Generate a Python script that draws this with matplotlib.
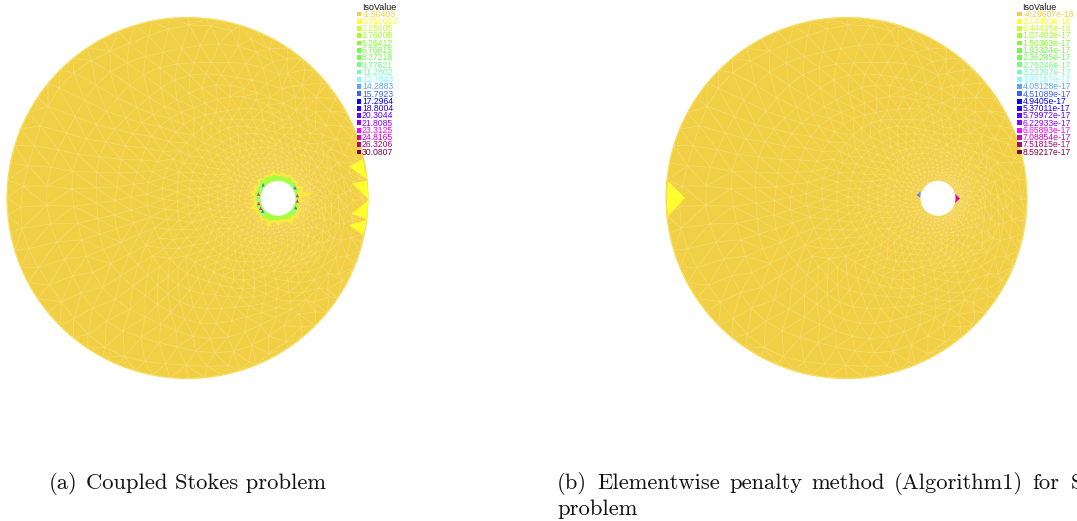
import matplotlib
matplotlib.use('Agg')
import matplotlib.pyplot as plt
import matplotlib.tri as mtri
from matplotlib.patches import Circle, Polygon
import numpy as np

# legend values
left_labels = ['-1.50403', '0.752013', '2.25605', '3.76008', '5.26412', '6.76815', '8.27218',
               '9.77621', '11.2802', '12.7843', '14.2883', '15.7923', '17.2964', '18.8004',
               '20.3044', '21.8085', '23.3125', '24.8165', '26.3206', '30.0807']
right_labels = ['-4.29607e-18', '2.14803e-18', '6.44415e-18', '1.07402e-17', '1.50363e-17',
                '1.93324e-17', '2.36285e-17', '2.79246e-17', '3.22207e-17', '3.65167e-17',
                '4.08128e-17', '4.51089e-17', '4.9405e-17', '5.37011e-17', '5.79972e-17',
                '6.22933e-17', '6.65893e-17', '7.08854e-17', '7.51815e-17', '8.59217e-17']
iso_colors = ['#f2cf45', '#ffff20', '#c8ff28', '#a0ff28', '#80ff28', '#70ff40', '#70ff50',
              '#70ff80', '#70ffb0', '#80ffff', '#5aa5ff', '#3a60ff', '#0000ff', '#2000ff',
              '#6000ff', '#9000ff', '#ff00ff', '#d000c0', '#b00080', '#800040']

# yellow boundary elements, (x, y) in image pixels
left_spikes = [[(362.7, 159), (366.7, 179), (349, 166.7)],
               [(367, 181), (368.5, 199), (352, 183)],
               [(368.5, 200), (367, 219), (351.6, 214)],
               [(366.7, 220), (363, 235), (349, 225)]]
right_spikes = [[(668, 181), (666.5, 198), (668, 216), (685, 198)]]

# blotches around the hole in the left panel: angle (deg), radius (px)
blotch_angles = [0, 6, 12, 20, 28, 36, 44, 52, 60, 70, 80, 90, 100, 110, 120, 128, 136, 144,
                 152, 160, 168, 176, 184, 192, 200, 208, 216, 224, 232, 240, 250, 260, 270,
                 280, 290, 300, 310, 320, 328, 336, 344, 352]
blotch_yellow = [22, 28, 22, 23, 27, 24, 29, 25, 30, 25, 24, 27, 24, 31, 25, 29, 24, 27,
                 25, 30, 24, 26, 24, 29, 25, 27, 24, 28, 24, 27, 25, 27, 24, 26, 25, 27,
                 24, 26, 23, 28, 25, 36]
blotch_green = [20, 21, 20, 22, 23, 22, 24, 22, 24, 22, 21, 22, 22, 24, 23, 25, 22, 24,
                22, 23, 21, 22, 21, 24, 22, 23, 22, 25, 23, 24, 23, 24, 22, 23, 22, 24,
                22, 23, 21, 23, 20, 21]
spot_angles = [-8, 8, 28, -32, 42, -46, 150, 165, 178, 192, 210, 140, 222, 132]
spot_radii = [19.5, 19.5, 20, 20, 20, 20, 20, 20, 19.5, 20, 20, 20, 20, 20]
spot_colors = ['#e010c0', '#e010c0', '#3a60ff', '#3a60ff', '#70ffd0', '#70ffd0', '#c020c0',
               '#d010b0', '#70ffd0', '#d010b0', '#70ffd0', '#3a60ff', '#3a60ff', '#70ffd0']

DISK = '#f2d045'
MESH = '#f6dc78'
R_OUT = 180.5
R_HOLE = 17.5


def draw_mesh(ax, cx, cy, hx, hy):
    # rings graded from fine at the hole to coarse on the boundary
    xs, ys = [], []
    r = R_HOLE
    k = 0
    while r < R_OUT:
        h = 3.2 + 0.115 * (r - R_HOLE)
        f = (r - R_HOLE) / (R_OUT - R_HOLE)
        n = int(2 * np.pi * r / h)
        ang = np.linspace(0, 2 * np.pi, n, endpoint=False) + k * 0.61
        wob = 1 + 0.018 * np.sin(ang * 7 + k * 1.3) * min(f * 3, 1)
        xs.append(hx + f * (cx - hx) + r * wob * np.cos(ang))
        ys.append(hy + f * (cy - hy) + r * wob * np.sin(ang))
        r += h * 0.9
        k += 1
    ang = np.linspace(0, 2 * np.pi, 64, endpoint=False)
    xs.append(cx + R_OUT * np.cos(ang))
    ys.append(cy + R_OUT * np.sin(ang))
    xs = np.concatenate(xs)
    ys = np.concatenate(ys)
    keep = np.hypot(xs - cx, ys - cy) <= R_OUT + 0.01
    xs, ys = xs[keep], ys[keep]
    tri = mtri.Triangulation(xs, ys)
    mx = xs[tri.triangles].mean(axis=1)
    my = ys[tri.triangles].mean(axis=1)
    tri.set_mask(np.hypot(mx - hx, my - hy) < R_HOLE)
    ax.triplot(tri, color=MESH, lw=0.5, alpha=0.8, zorder=2)


def polar_poly(hx, hy, angles, radii):
    a = np.radians(angles)
    r = np.array(radii)
    return np.column_stack([hx + r * np.cos(a), hy + r * np.sin(a)])


def draw_legend(ax, sq_x, title_x, labels):
    ax.text(title_x, 7, 'IsoValue', ha='center', va='center', fontsize=6.4,
            family='Liberation Sans', color='#111111', zorder=6)
    rows = 14 + np.arange(len(labels)) * 7.26
    for y, lab, col in zip(rows, labels, iso_colors):
        ax.add_patch(Polygon([(sq_x - 2.4, y - 2.4), (sq_x + 2.4, y - 2.4),
                              (sq_x + 2.4, y + 2.4), (sq_x - 2.4, y + 2.4)],
                             fc=col, ec='none', zorder=6))
        ax.text(sq_x + 3, y + 0.2, lab, ha='left', va='center', fontsize=6.2,
                family='Liberation Sans', color=col, zorder=6)


fig = plt.figure(figsize=(10.77, 5.21), dpi=100)
ax = fig.add_axes([0, 0, 1, 1])
ax.set_xlim(0, 1077)
ax.set_ylim(521, 0)
ax.axis('off')

# left panel
ax.add_patch(Circle((187.5, 198), R_OUT, fc=DISK, ec='#f8e24a', lw=0.8, zorder=1))
draw_mesh(ax, 187.5, 198, 278, 198.3)
for s in left_spikes:
    ax.add_patch(Polygon(s, fc='#ffff30', ec='none', zorder=3))
ax.add_patch(Polygon(polar_poly(278, 198.3, blotch_angles, blotch_yellow), fc='#fbe840', ec='none', zorder=3))
ax.add_patch(Polygon(polar_poly(278, 198.3, blotch_angles, blotch_green), fc='#a8ff40', ec='none', zorder=3))
sp = polar_poly(278, 198.3, spot_angles, spot_radii)
ax.scatter(sp[:, 0], sp[:, 1], s=6, marker='^', c=spot_colors, linewidths=0, alpha=0.85, zorder=4)
ax.add_patch(Circle((278, 198.3), R_HOLE, fc='white', ec='none', zorder=5))
draw_legend(ax, 359, 379, left_labels)

# right panel
ax.add_patch(Circle((846.5, 198), R_OUT, fc=DISK, ec='#f8e24a', lw=0.8, zorder=1))
draw_mesh(ax, 846.5, 198, 938, 198.3)
for s in right_spikes:
    ax.add_patch(Polygon(s, fc='#ffff30', ec='none', zorder=3))
ax.add_patch(Polygon([(920.5, 191.5), (920.5, 198), (916.5, 195)], fc='#5a90ff', ec='none', zorder=4))
ax.add_patch(Polygon([(955, 194), (955, 203), (960, 198.5)], fc='#d010a0', ec='none', zorder=4))
ax.add_patch(Circle((938, 198.3), R_HOLE, fc='white', ec='none', zorder=5))
draw_legend(ax, 1019.7, 1039, right_labels)

# captions
cap = dict(family='cmr10', fontsize=16.25, va='baseline', ha='left', color='#111111')
ax.text(49, 489, '(a)', **cap)
ax.text(86, 489, 'Coupled Stokes problem', **cap)
for x, word in zip([557, 597, 729, 811, 894, 1032, 1071],
                   ['(b)', 'Elementwise', 'penalty', 'method', '(Algorithm1)', 'for', 'S']):
    ax.text(x, 489, word, **cap)
ax.text(557, 515, 'problem', **cap)

fig.savefig('out.png', dpi=100)
